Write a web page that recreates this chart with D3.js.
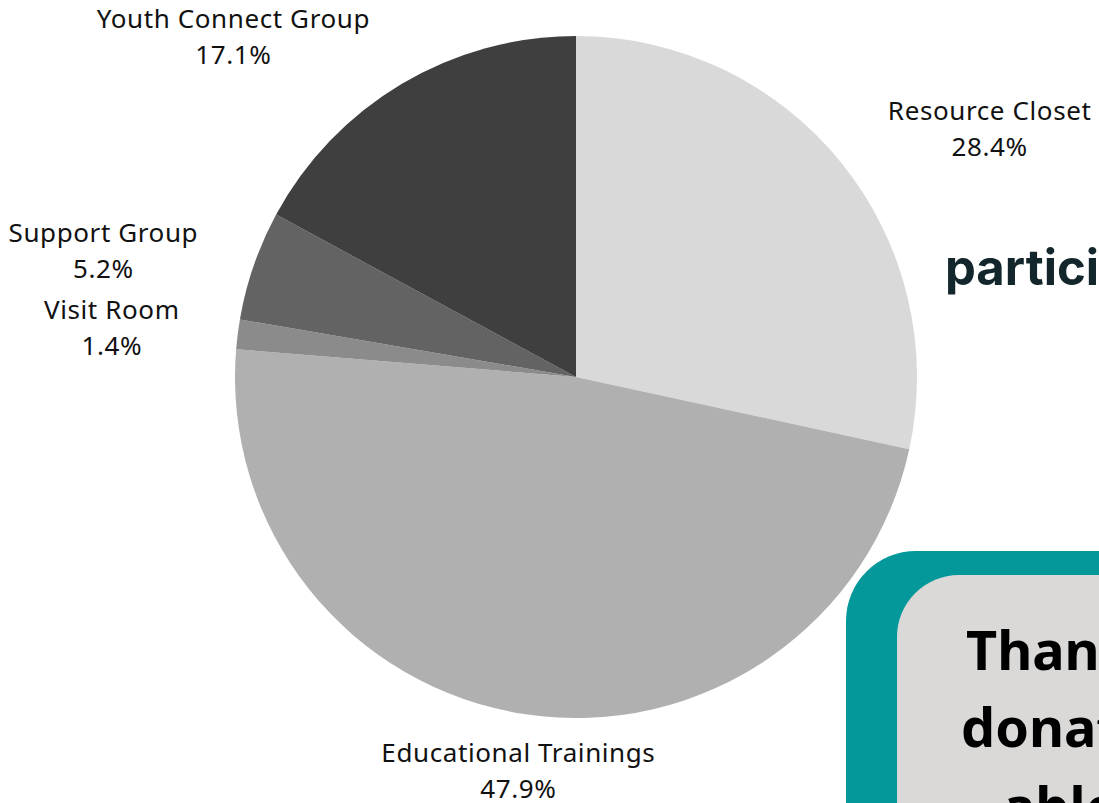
<!DOCTYPE html>
<html lang="en">
<head>
    <meta charset="UTF-8">
    <title>Program Participation</title>
    <script src="https://d3js.org/d3.v7.min.js"></script>
    <style>
        html, body { margin: 0; padding: 0; background: #fff; overflow: hidden; }
        svg { display: block; }
    </style>
</head>
<body>
    <div id="chart"></div>
    <script>
        // Data (clockwise from 12 o'clock)
        const categories = ["Resource Closet", "Educational Trainings", "Visit Room", "Support Group", "Youth Connect Group"];
        const shares = [28.4, 47.9, 1.4, 5.2, 17.1];
        const sliceColors = ["#d9d9d9", "#b0b0b0", "#8b8b8b", "#636363", "#3f3f3f"];

        // label nudges from the outer label arc (layout only)
        const labelNudge = [[40, 52], [13, -82], [12, 10], [-19, 30], [-97, 71]];

        const W = 1099, H = 803;
        const cx = 576, cy = 377, radius = 341, labelRadius = 480;

        const svg = d3.select("#chart").append("svg")
            .attr("width", W)
            .attr("height", H);

        const data = categories.map((c, i) => ({ name: c, value: shares[i], color: sliceColors[i], nudge: labelNudge[i] }));

        const pie = d3.pie()
            .value(d => d.value)
            .sort(null);

        const arc = d3.arc().innerRadius(0).outerRadius(radius);
        const labelArc = d3.arc().innerRadius(labelRadius).outerRadius(labelRadius);

        const g = svg.append("g").attr("transform", `translate(${cx},${cy})`);

        const arcs = pie(data);

        g.selectAll("path.slice")
            .data(arcs)
            .enter().append("path")
            .attr("class", "slice")
            .attr("d", arc)
            .attr("fill", d => d.data.color);

        // Labels: name + percentage
        const labels = g.selectAll("text.label")
            .data(arcs)
            .enter().append("text")
            .attr("class", "label")
            .attr("text-anchor", "middle")
            .style("font-family", "'Noto Sans', sans-serif")
            .style("font-size", "26px")
            .style("letter-spacing", "0.6px")
            .style("fill", "#111")
            .attr("transform", d => {
                const c = labelArc.centroid(d);
                return `translate(${c[0] + d.data.nudge[0]},${c[1] + d.data.nudge[1]})`;
            });

        labels.append("tspan")
            .attr("x", 0)
            .attr("y", -8)
            .text(d => d.data.name);

        labels.append("tspan")
            .attr("x", 0)
            .attr("y", 28)
            .text(d => d.data.value.toFixed(1) + "%");

        // Side text (runs off the page edge)
        svg.append("text")
            .attr("x", 945)
            .attr("y", 285)
            .style("font-family", "Inter, 'Noto Sans', sans-serif")
            .style("font-weight", "700")
            .style("font-size", "49px")
            .style("fill", "#13262b")
            .text("participants");

        // Callout box
        svg.append("rect")
            .attr("x", 846)
            .attr("y", 551)
            .attr("width", 400)
            .attr("height", 400)
            .attr("rx", 70)
            .attr("fill", "#05989b");

        svg.append("rect")
            .attr("x", 897)
            .attr("y", 575)
            .attr("width", 400)
            .attr("height", 400)
            .attr("rx", 62)
            .attr("fill", "#dad9d8");

        const note = svg.append("text")
            .style("font-family", "'Noto Sans', sans-serif")
            .style("font-weight", "700")
            .style("font-size", "54px")
            .style("fill", "#000");

        note.append("tspan").attr("x", 966).attr("y", 670).text("Thanks to your");
        note.append("tspan").attr("x", 961).attr("y", 747).text("donations, we were");
        note.append("tspan").attr("x", 1003).attr("y", 826).text("able to");
    </script>
</body>
</html>
